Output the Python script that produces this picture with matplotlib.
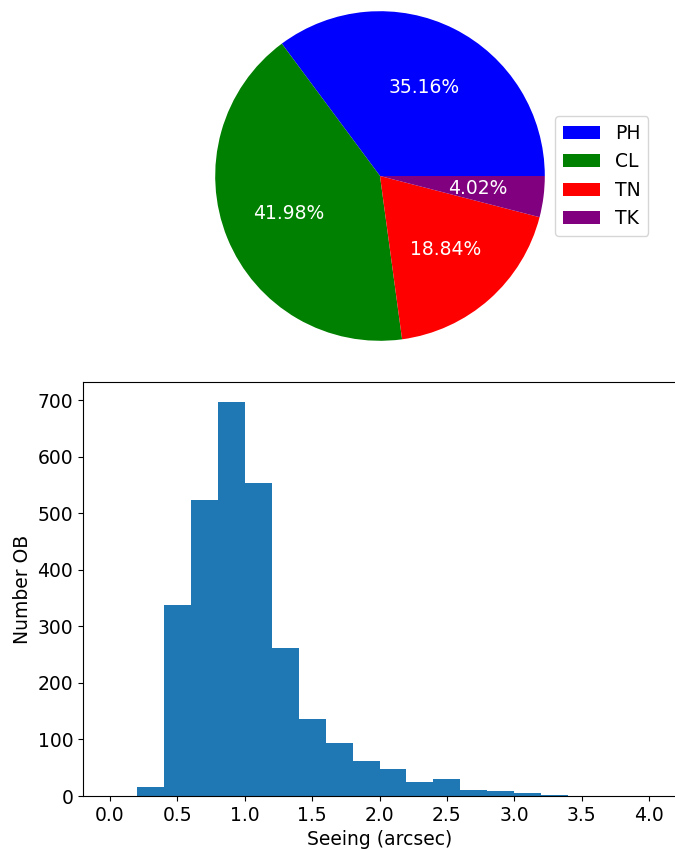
import numpy as np
import matplotlib.pyplot as plt

# pie data
labels = ['PH', 'CL', 'TN', 'TK']
shares = [35.16, 41.98, 18.84, 4.02]
colors = ['blue', 'green', 'red', 'purple']

# seeing histogram (counts per 0.2 arcsec bin)
bin_edges = np.arange(0, 4.01, 0.2)
counts = [0, 16, 337, 523, 697, 553, 261, 137, 93, 61,
          48, 24, 30, 11, 9, 6, 2, 0, 0, 0]

plt.rcParams['font.size'] = 13.5

fig = plt.figure(figsize=(6.75, 8.49), dpi=100)

# top: pie
ax1 = fig.add_axes([174 / 675, 1 - 382 / 849, 412 / 675, 412 / 849])
wedges, texts, autotexts = ax1.pie(shares, colors=colors, autopct='%1.2f%%',
                                   textprops={'color': 'white'})
ax1.set_aspect('equal')
fig.legend(wedges, labels, loc='center left',
           bbox_to_anchor=(555 / 675, 1 - 176 / 849),
           bbox_transform=fig.transFigure, borderaxespad=0)

# bottom: histogram
ax2 = fig.add_axes([83 / 675, 53 / 849, 593 / 675, 414 / 849])
centers = bin_edges[:-1] + 0.1
ax2.hist(centers, bins=bin_edges, weights=counts)
ax2.set_xticks(np.arange(0, 4.01, 0.5))
ax2.set_xlabel('Seeing (arcsec)')
ax2.set_ylabel('Number OB')

fig.savefig('out.png', dpi=100)
